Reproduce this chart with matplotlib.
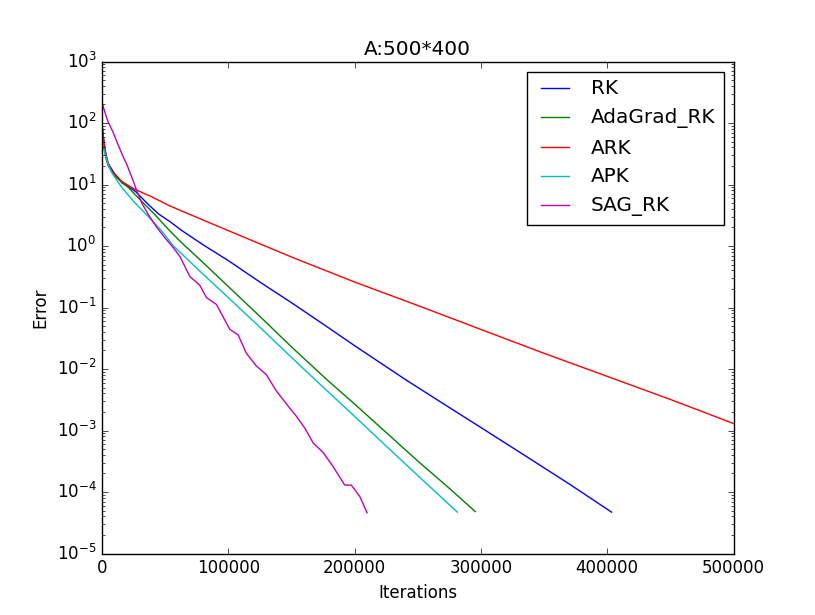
import matplotlib
matplotlib.use('Agg')
import matplotlib.pyplot as plt
import numpy as np

plt.style.use('classic')

# iterations (thousands) and error values
rk_it = [0, 1, 2.6, 5, 10, 15.8, 26.3, 36.9, 45, 53.8, 63, 80, 100, 125, 150,
         175, 200, 240, 270, 300, 335, 370, 403.5]
rk_err = [100, 63, 35, 22, 15, 10.7, 7.8, 4.7, 3.3, 2.5, 1.8, 1.05, 0.58, 0.26,
          0.12, 0.054, 0.024, 6.8e-3, 2.75e-3, 1.12e-3, 3.9e-4, 1.35e-4, 4.7e-5]

ada_it = [0, 1, 3, 5, 10.5, 21.1, 29, 42.2, 52.7, 63.3, 80, 100, 125, 150,
          177.8, 200, 225, 250, 275, 295.6]
ada_err = [79, 50, 28, 20, 13.5, 8.9, 6.0, 3.2, 1.86, 1.12, 0.54, 0.22, 0.072,
           0.023, 6.8e-3, 2.7e-3, 9.3e-4, 3.2e-4, 1.15e-4, 4.8e-5]

ark_it = [0, 1, 2.6, 4, 7.9, 15.8, 26.3, 39.6, 52.7, 63.3, 100, 152.7, 200,
          251.6, 300, 350, 400, 450, 500]
ark_err = [100, 63, 37, 24, 16.6, 11.2, 8.3, 6.3, 4.6, 3.7, 1.78, 0.63, 0.26,
           0.105, 0.044, 0.018, 7.6e-3, 3.2e-3, 1.3e-3]

apk_it = [0, 1, 2.6, 5, 7.9, 15.8, 26.3, 36.9, 47.5, 56.7, 80, 100, 125, 150,
          168.5, 200, 225, 250, 281.4]
apk_err = [63, 42, 31, 21, 15.5, 8.9, 5.0, 3.0, 1.74, 1.0, 0.35, 0.145, 0.048,
           0.0155, 6.8e-3, 1.7e-3, 5.6e-4, 1.86e-4, 4.7e-5]

sag_it = [0, 4.7, 8.7, 12.7, 16.6, 19.8, 25, 27.7, 31.6, 36.9, 43.5, 50, 56.7,
          61.7, 69.6, 77.5, 82.8, 90.7, 101.3, 107.8, 114.4, 122.3, 130.2,
          138.1, 147.4, 154, 160.6, 167.2, 175.1, 183, 192.2, 197.5, 204.1,
          209.9]
sag_err = [214, 107, 72, 45, 29, 21, 11.2, 7.8, 5.0, 3.2, 2.0, 1.35, 0.93, 0.68,
           0.32, 0.23, 0.145, 0.112, 0.044, 0.036, 0.018, 0.0112, 8.1e-3,
           4.4e-3, 2.5e-3, 1.7e-3, 1.1e-3, 6.3e-4, 4.4e-4, 2.6e-4, 1.3e-4,
           1.29e-4, 8.5e-5, 4.6e-5]

series = [
    ('RK', rk_it, rk_err, 'b'),
    ('AdaGrad_RK', ada_it, ada_err, 'g'),
    ('ARK', ark_it, ark_err, 'r'),
    ('APK', apk_it, apk_err, 'c'),
    ('SAG_RK', sag_it, sag_err, 'm'),
]

fig = plt.figure(figsize=(8.15, 6.15), dpi=100)
fig.subplots_adjust(left=0.125, right=0.9, bottom=0.1, top=0.9)
ax = fig.add_subplot(111)

for name, it, err, c in series:
    ax.semilogy(np.array(it) * 1000, err, color=c, lw=1.0, label=name)

ax.set_xlim(0, 500000)
ax.set_ylim(1e-5, 1e3)
ax.set_title('A:500*400')
ax.set_xlabel('Iterations')
ax.set_ylabel('Error')
ax.legend(loc='upper right')

fig.savefig('out.png', dpi=100)
